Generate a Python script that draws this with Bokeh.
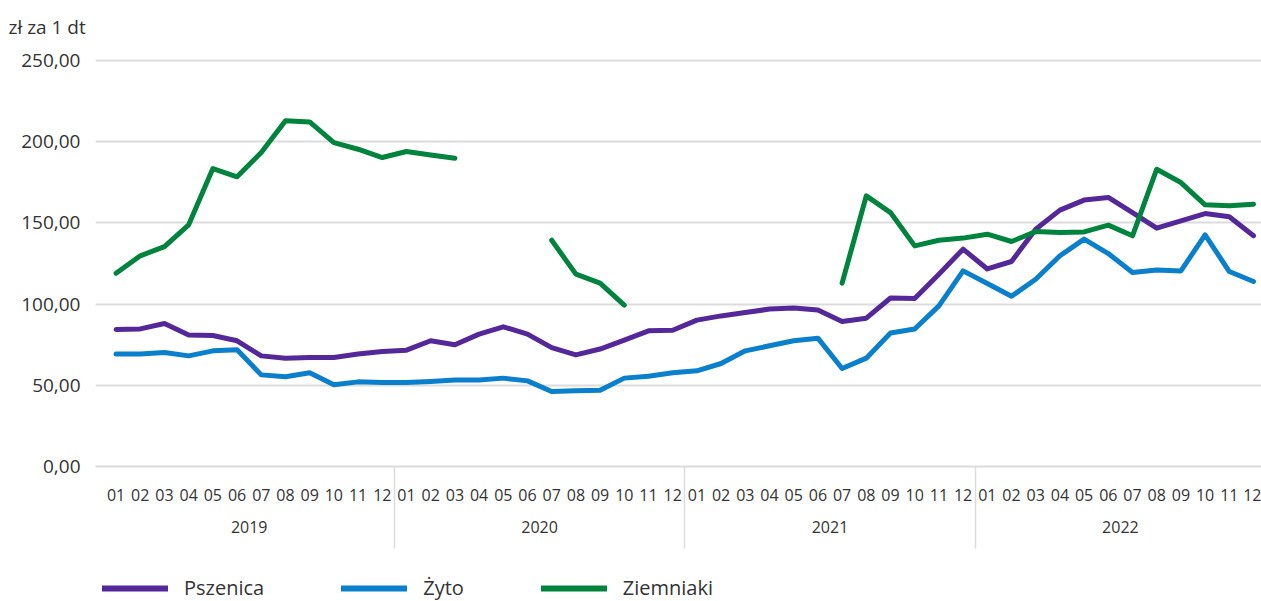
from bokeh.plotting import figure
from bokeh.layouts import column
from bokeh.models import Range1d, LinearAxis, FixedTicker, Legend, LegendItem, Grid
from bokeh.embed import file_html
from bokeh.resources import INLINE

nan = float("nan")

years = ["2019", "2020", "2021", "2022"]
months = ["01", "02", "03", "04", "05", "06", "07", "08", "09", "10", "11", "12"]

pszenica = [84.3, 84.7, 88.0, 80.9, 80.6, 77.4, 68.1, 66.7, 67.1, 67.1, 69.2, 70.8,
            71.6, 77.4, 74.9, 81.5, 86.0, 81.5, 73.2, 68.7, 72.3, 77.8, 83.5, 83.9,
            90.1, 92.7, 94.8, 96.9, 97.5, 96.3, 89.2, 91.3, 103.7, 103.4, 118.4, 133.8,
            121.6, 126.2, 146.1, 157.8, 164.0, 165.6, 156.3, 146.7, 151.2, 155.7, 153.7, 142.0]

zyto = [69.2, 69.2, 70.2, 68.1, 71.2, 71.8, 56.4, 55.2, 57.7, 50.3, 52.1, 51.7,
        51.7, 52.3, 53.2, 53.2, 54.4, 52.7, 46.2, 46.6, 47.0, 54.4, 55.6, 57.7,
        58.9, 63.4, 71.2, 74.3, 77.4, 79.0, 60.3, 66.7, 82.2, 84.6, 98.9, 120.4,
        112.6, 104.8, 115.3, 129.7, 140.0, 131.1, 119.4, 120.9, 120.4, 142.6, 120.0, 113.9]

ziemniaki = [119.0, 129.7, 135.4, 148.8, 183.4, 178.3, 193.3, 212.8, 212.1, 199.4, 195.3, 190.2,
             193.9, 191.8, 189.8, nan, nan, nan, 139.3, 118.4, 112.9, 99.3, nan, nan,
             nan, nan, nan, nan, nan, nan, 112.9, 166.6, 156.3, 135.8, 139.3, 140.6,
             143.0, 138.5, 144.6, 144.0, 144.4, 148.6, 142.0, 183.0, 174.8, 161.1, 160.5, 161.5]

series_names = ["Pszenica", "Żyto", "Ziemniaki"]
series_colors = ["#55289a", "#0a7fcc", "#00843d"]
y_ticks = [0, 50, 100, 150, 200, 250]
unit_label = "zł za 1 dt"

labels = [m for y in years for m in months]
x = list(range(len(labels)))
n_m = len(months)
year_centers = [k * n_m + (n_m - 1) / 2 for k in range(len(years))]
separators = [k * n_m - 0.5 for k in range(1, len(years))]
series = [pszenica, zyto, ziemniaki]

TEXT = "#333333"
GRID = "#dcdcdc"
FONT = "Open Sans"

p = figure(width=1261, height=566, output_backend="svg", toolbar_location=None,
           x_range=Range1d(-0.85, 47.33), y_range=Range1d(0, 253),
           x_axis_type=None, y_axis_type=None,
           min_border_left=95, min_border_right=0, min_border_top=55, min_border_bottom=100)
p.outline_line_color = None
p.background_fill_color = "white"
p.border_fill_color = "white"

# title (unit)
p.title.text = unit_label
p.title.align = "left"
p.title.vertical_align = "top"
p.title.offset = -95
p.title.standoff = 11
p.title.padding = 8
p.title.text_font = FONT
p.title.text_font_size = "19px"
p.title.text_font_style = "normal"
p.title.text_color = TEXT

# y axis
yax = LinearAxis(ticker=FixedTicker(ticks=y_ticks),
                 major_label_overrides={t: f"{t:.2f}".replace(".", ",") for t in y_ticks})
yax.axis_line_color = None
yax.major_tick_line_color = None
yax.minor_tick_line_color = None
yax.major_tick_out = 0
yax.minor_tick_out = 0
yax.major_label_standoff = 15
yax.major_label_text_font = FONT
yax.major_label_text_font_size = "19px"
yax.major_label_text_color = TEXT
p.add_layout(yax, "left")
p.add_layout(Grid(dimension=1, ticker=yax.ticker, grid_line_color=GRID, grid_line_width=2))

# month axis with year separators drawn as long minor ticks
xax = LinearAxis(ticker=FixedTicker(ticks=x, minor_ticks=separators),
                 major_label_overrides={i: lab for i, lab in zip(x, labels)})
xax.axis_line_color = GRID
xax.axis_line_width = 2
xax.major_tick_line_color = None
xax.major_tick_out = 0
xax.minor_tick_in = 0
xax.minor_tick_out = 82
xax.minor_tick_line_color = GRID
xax.minor_tick_line_width = 1.5
xax.major_label_standoff = -60
xax.major_label_text_font = FONT
xax.major_label_text_font_size = "16px"
xax.major_label_text_color = TEXT
p.add_layout(xax, "below")

# year axis
yrax = LinearAxis(ticker=FixedTicker(ticks=year_centers),
                  major_label_overrides={c: yv for c, yv in zip(year_centers, years)})
yrax.axis_line_color = None
yrax.major_tick_line_color = None
yrax.minor_tick_line_color = None
yrax.major_tick_out = 0
yrax.minor_tick_out = 0
yrax.major_label_standoff = 17
yrax.major_label_text_font = FONT
yrax.major_label_text_font_size = "16px"
yrax.major_label_text_color = TEXT
p.add_layout(yrax, "below")

for vals, col in zip(series, series_colors):
    p.line(x, vals, line_color=col, line_width=5, line_cap="round", line_join="round")

# legend strip below the chart (its own lines fall outside its empty view)
pl = figure(width=1261, height=35, output_backend="svg", toolbar_location=None,
            x_range=Range1d(-1000, -999), y_range=Range1d(-1000, -999),
            x_axis_type=None, y_axis_type=None,
            min_border_left=0, min_border_right=0, min_border_top=0, min_border_bottom=0)
pl.outline_line_color = None
pl.grid.visible = False
items = []
for name, vals, col in zip(series_names, series, series_colors):
    r = pl.line(x, vals, line_color=col, line_width=6, line_cap="round")
    items.append(LegendItem(label=name, renderers=[r]))
legend = Legend(items=items, orientation="horizontal", location=(7, 0),
                glyph_width=66, glyph_height=20, label_standoff=16, spacing=77,
                padding=0, margin=0, border_line_color=None, background_fill_alpha=0,
                label_text_font=FONT, label_text_font_size="20px", label_text_color=TEXT)
pl.add_layout(legend, "center")

layout = column(p, pl, spacing=0)
open("out.html", "w").write(file_html(layout, INLINE))
